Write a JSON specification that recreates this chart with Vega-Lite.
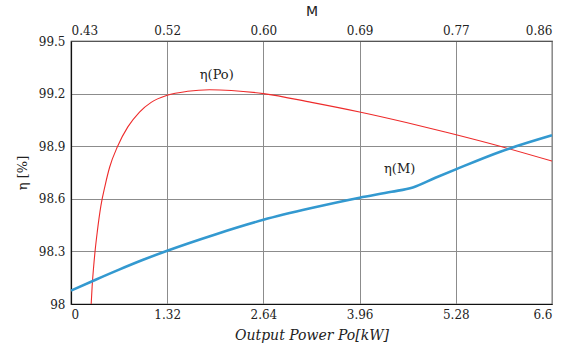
{
  "$schema": "https://vega.github.io/schema/vega-lite/v6.json",
  "width": 481,
  "height": 263,
  "autosize": "none",
  "padding": {"left": 71, "top": 41, "right": 22, "bottom": 50},
  "background": "white",
  "config": {
    "font": "DejaVu Serif",
    "view": {"stroke": "#222", "strokeWidth": 1.2},
    "text": {"font": "DejaVu Serif"},
    "axis": {
      "labelFont": "DejaVu Serif",
      "labelFontSize": 12,
      "labelColor": "#222",
      "titleFont": "DejaVu Serif",
      "titleFontSize": 13,
      "titleFontWeight": "normal",
      "titleColor": "#222",
      "ticks": false,
      "domainColor": "#111",
      "domainWidth": 1.2,
      "gridColor": "#8c8c8c",
      "gridWidth": 1,
      "gridOpacity": 1
    }
  },
  "datasets": {
    "po": [
      {"Po": 0.277, "eta": 98.0},
      {"Po": 0.29, "eta": 98.1},
      {"Po": 0.31, "eta": 98.21},
      {"Po": 0.33, "eta": 98.3},
      {"Po": 0.36, "eta": 98.41},
      {"Po": 0.41, "eta": 98.56},
      {"Po": 0.47, "eta": 98.68},
      {"Po": 0.53, "eta": 98.78},
      {"Po": 0.64, "eta": 98.9},
      {"Po": 0.78, "eta": 99.01},
      {"Po": 0.94, "eta": 99.095},
      {"Po": 1.1, "eta": 99.15},
      {"Po": 1.32, "eta": 99.19},
      {"Po": 1.6, "eta": 99.213},
      {"Po": 1.9, "eta": 99.222},
      {"Po": 2.2, "eta": 99.218},
      {"Po": 2.64, "eta": 99.2},
      {"Po": 3.3, "eta": 99.15},
      {"Po": 3.96, "eta": 99.095},
      {"Po": 4.6, "eta": 99.035},
      {"Po": 5.19, "eta": 98.975},
      {"Po": 5.9, "eta": 98.898},
      {"Po": 6.6, "eta": 98.815}
    ],
    "m": [
      {"Po": 0.0, "eta": 98.076},
      {"Po": 0.33, "eta": 98.137},
      {"Po": 0.66, "eta": 98.196},
      {"Po": 0.99, "eta": 98.252},
      {"Po": 1.32, "eta": 98.304},
      {"Po": 1.98, "eta": 98.397},
      {"Po": 2.64, "eta": 98.48},
      {"Po": 3.3, "eta": 98.547},
      {"Po": 3.96, "eta": 98.606},
      {"Po": 4.4, "eta": 98.64},
      {"Po": 4.69, "eta": 98.665},
      {"Po": 5.0, "eta": 98.72},
      {"Po": 5.28, "eta": 98.768},
      {"Po": 5.9, "eta": 98.87},
      {"Po": 6.6, "eta": 98.962}
    ],
    "labels": [
      {"Po": 2.0, "eta": 99.306, "label": "η(Po)"},
      {"Po": 4.51, "eta": 98.77, "label": "η(M)"}
    ],
    "mticks": [
      {"M": 0.43, "eta": 98.0},
      {"M": 0.86, "eta": 98.0}
    ]
  },
  "layer": [
    {
      "layer": [
        {
          "data": {"name": "po"},
          "mark": {"type": "line", "color": "#ee2b2b", "strokeWidth": 1.1, "interpolate": "monotone", "clip": true},
          "encoding": {
            "x": {
              "field": "Po", "type": "quantitative",
              "scale": {"domain": [0, 6.6], "nice": false, "zero": false},
              "axis": {
                "orient": "bottom",
                "values": [0, 1.32, 2.64, 3.96, 5.28, 6.6],
                "format": ".2~f",
                "labelPadding": 5,
                "title": "Output Power Po[kW]",
                "titleFontStyle": "italic",
                "titleFontSize": 14,
                "titlePadding": 8,
                "grid": true
              }
            },
            "y": {
              "field": "eta", "type": "quantitative",
              "scale": {"domain": [98, 99.5], "nice": false, "zero": false},
              "axis": {
                "values": [98, 98.3, 98.6, 98.9, 99.2, 99.5],
                "format": ".1~f",
                "labelPadding": 6,
                "title": "η [%]",
                "titlePadding": 9,
                "grid": true
              }
            }
          }
        },
        {
          "data": {"name": "m"},
          "mark": {"type": "line", "color": "#3399d0", "strokeWidth": 2.6, "interpolate": "monotone"},
          "encoding": {
            "x": {"field": "Po", "type": "quantitative"},
            "y": {"field": "eta", "type": "quantitative"}
          }
        },
        {
          "data": {"name": "labels"},
          "mark": {"type": "text", "font": "DejaVu Serif", "fontSize": 13, "color": "#222", "align": "center", "baseline": "middle"},
          "encoding": {
            "x": {"field": "Po", "type": "quantitative"},
            "y": {"field": "eta", "type": "quantitative"},
            "text": {"field": "label"}
          }
        }
      ]
    },
    {
      "data": {"name": "mticks"},
      "mark": {"type": "point", "opacity": 0},
      "encoding": {
        "x": {
          "field": "M", "type": "quantitative",
          "scale": {"domain": [0.43, 0.86], "nice": false, "zero": false},
          "axis": {
            "orient": "top",
            "values": [0.43, 0.516, 0.602, 0.688, 0.774, 0.86],
            "format": ".2f",
            "labelPadding": 4,
            "grid": false,
            "domainColor": "#555",
            "title": "M",
            "titleFont": "DejaVu Sans",
            "titleFontSize": 14,
            "titlePadding": 6
          }
        },
        "y": {"field": "eta", "type": "quantitative"}
      }
    }
  ],
  "resolve": {"scale": {"x": "independent"}, "axis": {"x": "independent"}}
}
